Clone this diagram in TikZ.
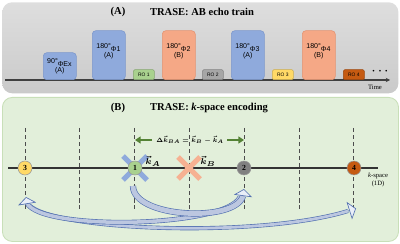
\documentclass[tikz,border=0pt]{standalone}
\usepackage{fontspec}
\setmainfont{Liberation Serif}
\newfontfamily\pulsefont{Liberation Sans}
\usepackage{xcolor}
\usetikzlibrary{positioning, arrows.meta, calc}
\definecolor{panelgraytop}{HTML}{DEDEDE}
\definecolor{panelgraybot}{HTML}{CACACA}
\definecolor{panelgreen}{HTML}{E2EFDA}
\definecolor{panelgreenline}{HTML}{C8DFB8}
\definecolor{pulseblue}{HTML}{8FAADC}
\definecolor{pulsebluel}{HTML}{7D98CC}
\definecolor{pulseorange}{HTML}{F5A886}
\definecolor{pulseorangel}{HTML}{E39472}
\definecolor{rogreen}{HTML}{A9D18E}
\definecolor{rogray}{HTML}{A6A6A6}
\definecolor{royellow}{HTML}{FFD966}
\definecolor{robrown}{HTML}{C55A11}
\definecolor{deltagreen}{HTML}{548235}
\definecolor{flowedge}{HTML}{5270B0}
\definecolor{flowfill}{HTML}{BCC7E0}
\definecolor{headfill}{HTML}{E9EEF8}

\begin{document}
\begin{tikzpicture}[x=0.025cm, y=0.025cm,
    panel/.style={rounded corners=7pt, anchor=north west, inner sep=0pt},
    title/.style={font=\bfseries\fontsize{7.5}{9}\selectfont},
    pulse/.style={rounded corners=2.5pt, anchor=south west, inner sep=0pt,
      font=\pulsefont\fontsize{5}{6}\selectfont, align=center},
    pulsetxt/.style={font=\pulsefont\fontsize{5}{6}\selectfont, align=center, yshift=0.1cm},
    rolbl/.style={pulse, minimum width=0.525cm, minimum height=0.25cm, rounded corners=1pt,
      font=\pulsefont\fontsize{3.5}{4}\selectfont},
    tall/.style={pulse, minimum width=0.825cm, minimum height=1.225cm},
    kpt/.style={circle, minimum size=0.35cm, inner sep=0pt, draw=black!40,
      font=\bfseries\fontsize{5.5}{6}\selectfont},
    klbl/.style={font=\fontsize{6.5}{8}\selectfont\boldmath, inner sep=1pt},
    grid/.style={densely dashed, line width=0.45pt, black!70},
    crossline/.style={line width=3.6pt},
    deltaarrow/.style={deltagreen, line width=1.5pt, -{Triangle[length=4pt, width=5pt]}},
    flowline/.style={draw=flowedge, line width=0.45pt, double=flowfill, double distance=#1},
    flowhead/.style={draw=flowedge, line width=0.45pt, -{Triangle[length=5pt, width=13pt, fill=headfill]}},
    small/.style={font=\fontsize{4.7}{5.5}\selectfont, inner sep=0pt, align=center}]
\useasboundingbox (0,0) rectangle (400,243);

% (A) echo train
\node[panel, top color=panelgraytop, bottom color=panelgraybot,
      minimum width=9.9cm, minimum height=2.275cm] (panA) at (2,241) {};
\node[title] (labA) at (118,231) {(A)};
\node[title] (titA) at (202,231) {TRASE: AB echo train};

\coordinate (t0) at (5,163);
\coordinate (t1) at (390,163);
\draw[black!75, line width=0.8pt, -{Stealth[length=3pt, width=3pt]}] (t0) -- (t1);
\node[small] (timelbl) at (375,156) {Time};

\node[pulse, fill=pulseblue, draw=pulsebluel, minimum width=0.825cm, minimum height=0.675cm]
  (p0) at (43,163) {90°\textsubscript{ΦEx}\\(A)};
\node[tall, fill=pulseblue, draw=pulsebluel,
  label={[pulsetxt]center:180°\textsubscript{Φ1}\\(A)}] (p1) at (92,163) {};
\node[tall, fill=pulseorange, draw=pulseorangel,
  label={[pulsetxt]center:180°\textsubscript{Φ2}\\(B)}] (p2) at (162,163) {};
\node[tall, fill=pulseblue, draw=pulsebluel,
  label={[pulsetxt]center:180°\textsubscript{Φ3}\\(A)}] (p3) at (231,163) {};
\node[tall, fill=pulseorange, draw=pulseorangel,
  label={[pulsetxt]center:180°\textsubscript{Φ4}\\(B)}] (p4) at (302,163) {};

\node[rolbl, fill=rogreen, draw=rogreen!80!black] (ro1) at (133,163) {RO 1};
\node[rolbl, fill=rogray, draw=rogray!80!black] (ro2) at (202,163) {RO 2};
\node[rolbl, fill=royellow, draw=royellow!80!black] (ro3) at (272,163) {RO 3};
\node[rolbl, fill=robrown, draw=robrown!80!black] (ro4) at (343,163) {RO 4};
\node[font=\fontsize{5}{6}\selectfont, inner sep=0pt] (dots) at (380,171)
  {\textbullet\hspace{2.8pt}\textbullet\hspace{2.8pt}\textbullet};

% (B) k-space encoding
\node[panel, fill=panelgreen, draw=panelgreenline, line width=0.6pt,
      minimum width=9.9cm, minimum height=3.6cm] (panB) at (2,146) {};
\node[title] (labB) at (118,135) {(B)};
\node[title] (titB) at (209,135) {TRASE: \textit{k}-space encoding};

\foreach \i in {0,...,6}
  \draw[grid] ({25+54.8*\i},115) -- ({25+54.8*\i},34);

\coordinate (k0) at (8,75);
\coordinate (k1) at (378,75);
\draw[black!80, line width=0.8pt] (k0) -- (k1);
\node[small] (kspace) at (378,67) {\textit{k}-space};
\node[small] (kdim) at (378,59) {(1D)};

\draw[crossline, pulseblue] (123,63) -- (147,87) (123,87) -- (147,63);
\draw[crossline, pulseorange!90!white] (178,64) -- (200,86) (178,86) -- (200,64);

\node[kpt, fill=royellow] (n3) at (25,75) {3};
\node[kpt, fill=rogreen] (n1) at (135,75) {1};
\node[kpt, fill=black!50] (n2) at (244,75) {2};
\node[kpt, fill=robrown] (n4) at (354,75) {4};

\node[klbl] (kA) at (153,82) {$\vec{k}_A$};
\node[klbl] (kB) at (208,82) {$\vec{k}_B$};
\node[klbl] (dk) at (190,103)
  {\scalebox{0.72}{$\Delta\vec{k}_{BA}=\vec{k}_B-\vec{k}_A$}};
\draw[deltaarrow] ($(dk)+(-38,0)$) -- (n1 |- dk);
\draw[deltaarrow] ($(dk)+(37,0)$) -- (n2 |- dk);

% echo order 1 -> 2 -> 3 -> 4
\coordinate (t34) at ($(n3)+(5,-38)$);
\coordinate (h4) at ($(n4)+(-6,-43)$);
\coordinate (t23) at ($(n2)+(-4,-29)$);
\coordinate (h3) at ($(n3)+(2,-35)$);
\coordinate (t12) at ($(n1)+(-2,-18)$);
\coordinate (h12) at ($(n2)+(-1,-28)$);
\draw[flowline=2pt] (t34) .. controls (60,12) and (260,5) .. (h4);
\draw[flowhead] (h4) -- ++(8,2.5);
\draw[flowline=2.5pt] (t23) .. controls (225,15) and (40,12) .. (h3);
\draw[flowhead] (h3) -- ++(-1,6);
\draw[flowline=3.5pt] (t12) .. controls (133,25) and (235,20) .. (h12);
\draw[flowhead] (h12) -- ++(1,7);
\end{tikzpicture}
\end{document}
